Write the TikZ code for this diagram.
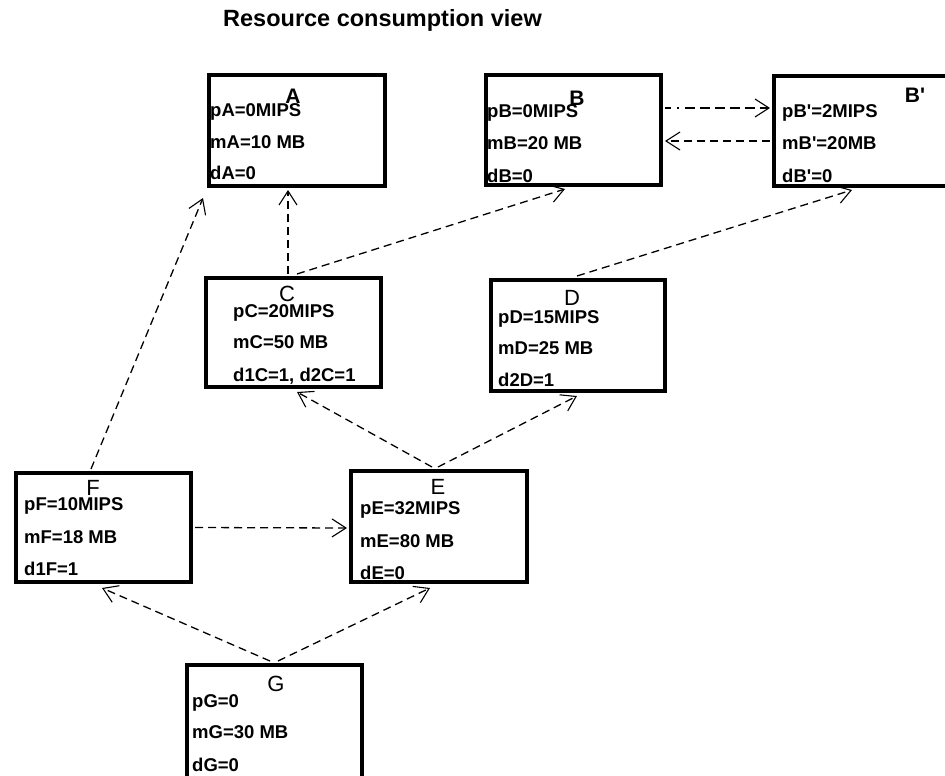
\documentclass[tikz,border=0pt]{standalone}
\usepackage{fontspec}
\setmainfont{Liberation Sans}
\usetikzlibrary{arrows.meta,calc}
\tikzset{
  blk/.style={draw, line width=4pt, rectangle, inner sep=0pt},
  txt/.style={anchor=base west, inner sep=0pt, font=\bfseries\fontsize{18.5}{18.5}\selectfont},
  lbl/.style={anchor=base, inner sep=0pt, font=\fontsize{22}{22}\selectfont},
  lblb/.style={anchor=base, inner sep=0pt, font=\bfseries\fontsize{21}{21}\selectfont},
  dep/.style={line width=1.3pt, dash pattern=on 8pt off 5pt,
    -{Straight Barb[length=14pt,width=18pt,line width=1.1pt]}},
}
\begin{document}
\begin{tikzpicture}[x=1pt,y=-1pt]
\useasboundingbox (0,0) rectangle (945,776);
\clip (0,0) rectangle (945,776);
% title
\node[anchor=base, inner sep=0pt, font=\bfseries\fontsize{23.5}{23.5}\selectfont] (title) at (382.5,27) {Resource consumption view};
% boxes
\node[blk, minimum width=176pt, minimum height=111pt] (A) at (297,130.5) {};
\node[blk, minimum width=175pt, minimum height=110pt] (B) at (573.5,130) {};
\node[blk, minimum width=184pt, minimum height=110pt] (Bp) at (866,131) {};
\node[blk, minimum width=175pt, minimum height=109pt] (C) at (293.5,332.5) {};
\node[blk, minimum width=174pt, minimum height=111pt] (D) at (578,335.5) {};
\node[blk, minimum width=175pt, minimum height=109pt] (F) at (103.5,527.5) {};
\node[blk, minimum width=176pt, minimum height=111pt] (E) at (439,526.5) {};
\node[blk, minimum width=175pt, minimum height=114pt] (G) at (274.5,722) {};
% labels
\node[lblb] (Al) at (293,103) {A};
\node[lblb] (Bl) at (577,105) {B};
\node[lblb] (Bpl) at (915,102) {B\textquotesingle};
\node[lbl] (Cl) at (287,301) {C};
\node[lbl] (Dl) at (572,305) {D};
\node[lbl] (El) at (438,494) {E};
\node[lbl] (Fl) at (93,495) {F};
\node[lbl] (Gl) at (276,691) {G};
% texts
\node[txt] (Ap) at (210,116) {pA=0MIPS};
\node[txt] (Am) at (210,148) {mA=10 MB};
\node[txt] (Ad) at (210,179) {dA=0};
\node[txt] (Bpp) at (487,117) {pB=0MIPS};
\node[txt] (Bm) at (487,149) {mB=20 MB};
\node[txt] (Bd) at (487,182) {dB=0};
\node[txt] (Bqp) at (782,117) {pB\textquotesingle=2MIPS};
\node[txt] (Bqm) at (782,149) {mB\textquotesingle=20MB};
\node[txt] (Bqd) at (782,182) {dB\textquotesingle=0};
\node[txt] (Cp) at (233,317) {pC=20MIPS};
\node[txt] (Cm) at (233,348) {mC=50 MB};
\node[txt] (Cd) at (233,381) {d1C=1, d2C=1};
\node[txt] (Dp) at (498,323) {pD=15MIPS};
\node[txt] (Dm) at (498,354) {mD=25 MB};
\node[txt] (Dd) at (498,386) {d2D=1};
\node[txt] (Fp) at (24,510) {pF=10MIPS};
\node[txt] (Fm) at (24,543) {mF=18 MB};
\node[txt] (Fd) at (24,575) {d1F=1};
\node[txt] (Ep) at (360,514) {pE=32MIPS};
\node[txt] (Em) at (360,547) {mE=80 MB};
\node[txt] (Ed) at (360,579) {dE=0};
\node[txt] (Gp) at (192,707) {pG=0};
\node[txt] (Gm) at (192,738) {mG=30 MB};
\node[txt] (Gd) at (192,771) {dG=0};
% connectors
\draw[dep] ([xshift=-5.5pt,yshift=2pt]C.north) -- ([xshift=-9pt,yshift=-2pt]A.south);
\draw[dep] ([xshift=3.5pt,yshift=2pt]C.north) -- ([xshift=-8.5pt,yshift=-2pt]B.south);
\draw[dep] ([xshift=-1pt,yshift=2pt]D.north) -- ([xshift=-14pt,yshift=-2pt]Bp.south);
\draw[dep, dash pattern=on 6pt off 6pt on 1.5pt off 6pt on 10pt off 5pt on 10pt off 5pt on 10pt off 5pt on 10pt off 5pt on 10pt off 5pt on 10pt off 5pt on 10pt off 5pt]
  ([xshift=2pt,yshift=22pt]B.east) -- ([xshift=-2pt,yshift=23pt]Bp.west);
\draw[dep] ([xshift=-2pt,yshift=-10pt]Bp.west) -- ([xshift=2pt,yshift=-11pt]B.east);
\draw[dep] ([xshift=-12.5pt,yshift=2pt]F.north) -- ([xshift=-4pt,yshift=-10pt]A.south west);
\draw[dep] ([xshift=-7pt,yshift=2pt]E.north) -- ([xshift=3.5pt,yshift=-3pt]C.south);
\draw[dep] ([xshift=-1pt,yshift=2pt]E.north) -- ([xshift=-1pt,yshift=-3pt]D.south);
\draw[dep] ([xshift=2pt]F.east) -- ([xshift=-2pt,yshift=-1.5pt]E.west);
\draw[dep] ([xshift=-4.5pt,yshift=2pt]G.north) -- ([xshift=-1.5pt,yshift=-4pt]F.south);
\draw[dep] ([xshift=3.5pt,yshift=2pt]G.north) -- ([xshift=-9pt,yshift=-4pt]E.south);
\end{tikzpicture}
\end{document}
